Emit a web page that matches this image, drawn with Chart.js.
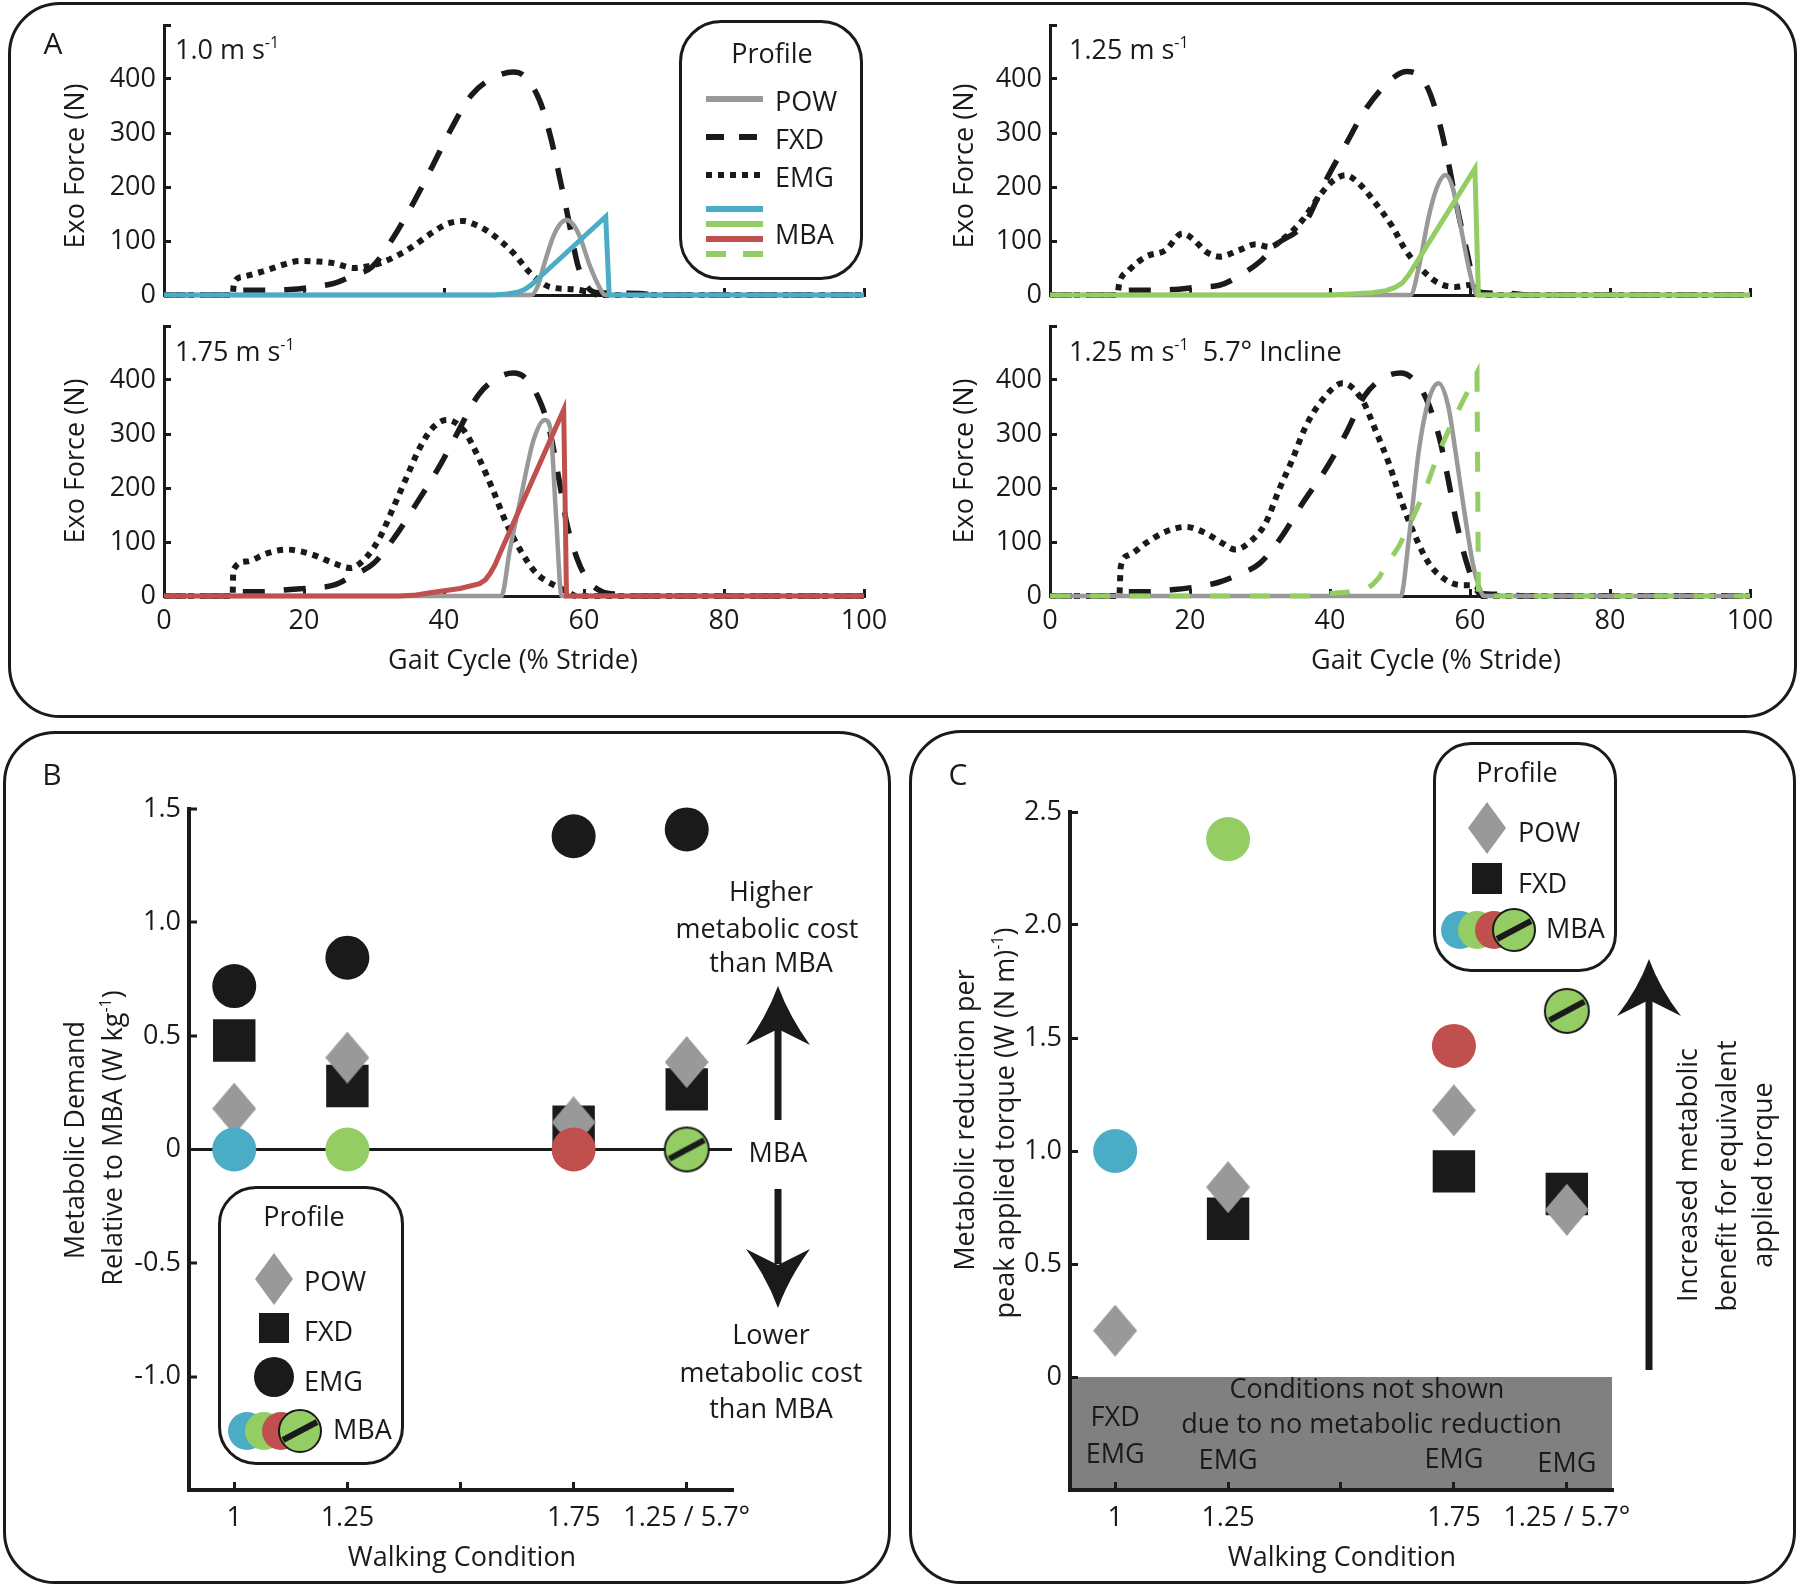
<!DOCTYPE html>
<html>
<head>
<meta charset="utf-8">
<title>Exo force profiles and metabolic demand</title>
<script src="https://cdn.jsdelivr.net/npm/chart.js@4.4.1/dist/chart.umd.min.js"></script>
<style>
  body { margin: 0; width: 1800px; height: 1587px; position: relative; overflow: hidden; background: #fff;
         font-family: 'Open Sans', sans-serif; color: #1a1a1a; }
  .panel { position: absolute; box-sizing: border-box; border: 3px solid #1a1a1a; border-radius: 52px; }
  .legend { position: absolute; box-sizing: border-box; border: 3px solid #1a1a1a; border-radius: 38px; background: #fff; }
  canvas { position: absolute; }
  svg { position: absolute; left: 0; top: 0; }
  .t { position: absolute; font-size: 27px; line-height: 1; white-space: nowrap; }
  .c { transform: translate(-50%, -50%); }
  .l { transform: translate(0, -50%); }
  .r { transform: translate(-50%, -50%) rotate(-90deg); }
  .big { font-size: 30px; }
  sup { font-size: 16px; line-height: 0; vertical-align: 11px; }
</style>
</head>
<body>
<div class="panel" style="left:8px;top:2px;width:1789px;height:716px"></div>
<div class="panel" style="left:3px;top:731px;width:888px;height:853px"></div>
<div class="panel" style="left:909px;top:730px;width:887px;height:854px"></div>

<canvas id="a100" width="800" height="300" style="left:90px;top:15px"></canvas>
<canvas id="a125" width="800" height="300" style="left:976px;top:15px"></canvas>
<canvas id="a175" width="800" height="330" style="left:90px;top:316px"></canvas>
<canvas id="a125i" width="800" height="330" style="left:976px;top:316px"></canvas>
<canvas id="chartB" width="672" height="750" style="left:100px;top:790px"></canvas>
<canvas id="chartC" width="672" height="750" style="left:980px;top:790px"></canvas>

<div class="legend" style="left:679px;top:20px;width:184px;height:260px;border-radius:42px"></div>
<div class="legend" style="left:218px;top:1186px;width:186px;height:279px"></div>
<div class="legend" style="left:1433px;top:742px;width:184px;height:230px"></div>

<svg width="1800" height="1587">
  <!-- legend A -->
  <g stroke-width="6" fill="none">
    <line x1="706" y1="99" x2="763" y2="99" stroke="#999999"/>
    <line x1="706" y1="137" x2="763" y2="137" stroke="#1a1a1a" stroke-dasharray="18 15"/>
    <line x1="706" y1="175" x2="763" y2="175" stroke="#1a1a1a" stroke-dasharray="6 6"/>
    <line x1="706" y1="209" x2="763" y2="209" stroke="#4bacc6"/>
    <line x1="706" y1="224" x2="763" y2="224" stroke="#93cd63"/>
    <line x1="706" y1="239" x2="763" y2="239" stroke="#c0504d"/>
    <line x1="706" y1="254" x2="763" y2="254" stroke="#93cd63" stroke-dasharray="20 17"/>
  </g>
  <!-- legend B -->
  <polygon points="274,1253 293,1279 274,1305 255,1279" fill="#999999"/>
  <rect x="259" y="1313" width="30" height="30" fill="#1a1a1a"/>
  <circle cx="274" cy="1377" r="20" fill="#1a1a1a"/>
  <circle cx="247" cy="1431" r="19" fill="#4bacc6"/>
  <circle cx="264" cy="1431" r="19" fill="#93cd63"/>
  <circle cx="281" cy="1431" r="19" fill="#c0504d"/>
  <circle cx="300" cy="1431" r="21" fill="#93cd63" stroke="#1a1a1a" stroke-width="2"/>
  <line x1="283" y1="1440" x2="317" y2="1422" stroke="#1a1a1a" stroke-width="6"/>
  <!-- legend C -->
  <polygon points="1487,802 1506,828 1487,854 1468,828" fill="#999999"/>
  <rect x="1472" y="863" width="30" height="31" fill="#1a1a1a"/>
  <circle cx="1460" cy="930" r="19" fill="#4bacc6"/>
  <circle cx="1477" cy="930" r="19" fill="#93cd63"/>
  <circle cx="1494" cy="930" r="19" fill="#c0504d"/>
  <circle cx="1514" cy="930" r="21" fill="#93cd63" stroke="#1a1a1a" stroke-width="2"/>
  <line x1="1497" y1="939" x2="1531" y2="921" stroke="#1a1a1a" stroke-width="6"/>
  <!-- arrows -->
  <g fill="#1a1a1a">
    <rect x="774.5" y="1025" width="7" height="95"/>
    <path d="M778,986 Q789,1016 810,1045 L778,1029 L746,1045 Q767,1016 778,986 Z"/>
    <rect x="774.5" y="1189" width="7" height="75"/>
    <path d="M778,1308 Q789,1278 810,1249 L778,1265 L746,1249 Q767,1278 778,1308 Z"/>
    <rect x="1645.5" y="995" width="7" height="375"/>
    <path d="M1649,959 Q1660,989 1681,1016 L1649,1000 L1617,1016 Q1638,989 1649,959 Z"/>
  </g>
</svg>

<!-- panel A text -->
<div class="t c big" style="left:53px;top:43px">A</div>
<div class="t l" style="left:175px;top:48px">1.0 m s<sup>-1</sup></div>
<div class="t l" style="left:1069px;top:48px">1.25 m s<sup>-1</sup></div>
<div class="t l" style="left:175px;top:350px">1.75 m s<sup>-1</sup></div>
<div class="t l" style="left:1069px;top:350px">1.25 m s<sup>-1</sup>&nbsp;&nbsp;5.7° Incline</div>
<div class="t r" style="left:73px;top:166px">Exo Force (N)</div>
<div class="t r" style="left:73px;top:461px">Exo Force (N)</div>
<div class="t r" style="left:962px;top:166px">Exo Force (N)</div>
<div class="t r" style="left:962px;top:461px">Exo Force (N)</div>
<div class="t c" style="left:513px;top:658px">Gait Cycle (% Stride)</div>
<div class="t c" style="left:1436px;top:658px">Gait Cycle (% Stride)</div>
<div class="t c" style="left:772px;top:52px">Profile</div>
<div class="t l" style="left:775px;top:100px">POW</div>
<div class="t l" style="left:775px;top:138px">FXD</div>
<div class="t l" style="left:775px;top:176px">EMG</div>
<div class="t l" style="left:775px;top:233px">MBA</div>

<!-- panel B text -->
<div class="t c big" style="left:52px;top:774px">B</div>
<div class="t r" style="left:73px;top:1140px">Metabolic Demand</div>
<div class="t r" style="left:111px;top:1138px">Relative to MBA (W kg<sup>-1</sup>)</div>
<div class="t c" style="left:462px;top:1555px">Walking Condition</div>
<div class="t c" style="left:771px;top:890px">Higher</div>
<div class="t c" style="left:767px;top:927px">metabolic cost</div>
<div class="t c" style="left:771px;top:961px">than MBA</div>
<div class="t c" style="left:778px;top:1151px">MBA</div>
<div class="t c" style="left:771px;top:1333px">Lower</div>
<div class="t c" style="left:771px;top:1371px">metabolic cost</div>
<div class="t c" style="left:771px;top:1407px">than MBA</div>
<div class="t c" style="left:304px;top:1215px">Profile</div>
<div class="t l" style="left:304px;top:1280px">POW</div>
<div class="t l" style="left:304px;top:1330px">FXD</div>
<div class="t l" style="left:304px;top:1380px">EMG</div>
<div class="t l" style="left:333px;top:1428px">MBA</div>

<!-- panel C text -->
<div class="t c big" style="left:958px;top:774px">C</div>
<div class="t r" style="left:963px;top:1120px">Metabolic reduction per</div>
<div class="t r" style="left:1003px;top:1123px">peak applied torque (W (N m)<sup>-1</sup>)</div>
<div class="t c" style="left:1342px;top:1555px">Walking Condition</div>
<div class="t r" style="left:1686px;top:1175px">Increased metabolic</div>
<div class="t r" style="left:1725px;top:1176px">benefit for equivalent</div>
<div class="t r" style="left:1761px;top:1175px">applied torque</div>
<div class="t c" style="left:1517px;top:771px">Profile</div>
<div class="t l" style="left:1518px;top:831px">POW</div>
<div class="t l" style="left:1518px;top:882px">FXD</div>
<div class="t l" style="left:1546px;top:927px">MBA</div>

<script>
// ---- Panel A: exo force (N) over the gait cycle (% stride), [x, y] ----
const gaitTicks = [0, 20, 40, 60, 80, 100]
const forceTicks = [0, 100, 200, 300, 400, 500]

// 1.0 m/s
const v100_POW = [[0,0],[52.5,0],[53.5,20],[54.2,52],[55.6,108],[56.5,130],[57.5,139],[58.5,130],[59.4,108],[60.9,52],[62.3,12],[63,0],[100,0]]
const v100_FXD = [[0,0],[9.7,0],[10,8],[14,9],[18,10],[22,16],[24.4,22],[27,36],[29.7,52],[32.7,105],[35.6,170],[38.4,240],[41,307],[43.9,370],[47,402],[49.9,413],[51.5,405],[53.7,359],[55.3,289],[56.6,213],[57.8,139],[59,61],[60,25],[61,8],[62,4],[68,3],[70,0],[100,0]]
const v100_EMG = [[0,0],[9.8,0],[10,22],[11.3,34],[14.7,46],[17,56],[19.4,63],[22,62],[24.2,59],[27.1,50],[29,53],[30.9,59],[34.7,83],[38.5,117],[40.5,132],[42.8,137],[44.5,130],[46.6,115],[49.9,78],[52.3,41],[55.1,15],[58.9,10],[61,4],[62,0],[100,0]]
const v100_MBA = [[0,0],[47,0],[49,2],[50.5,5],[51.5,10],[52.5,19],[53.5,31],[63.1,145],[63.6,0],[100,0]]

// 1.25 m/s
const v125_POW = [[0,0],[51.5,0],[52.7,52],[54.1,145],[55.3,200],[56.5,222],[57.5,200],[58.4,145],[59.8,52],[60.5,15],[61,0],[100,0]]
const v125_FXD = [[0,0],[9.8,0],[10,8],[14,9],[17.5,10],[21.5,15],[24.2,18],[27.6,40],[30,62],[32.3,93],[36.4,133],[39.2,207],[42.3,280],[45.2,346],[49.2,404],[51,414],[53.7,390],[55.6,320],[56.9,246],[58,172],[59.4,89],[60.8,15],[62,4],[66,3],[68,0],[100,0]]
const v125_EMG = [[0,0],[9.6,0],[9.9,22],[11.3,46],[13.7,71],[16.5,83],[18.9,114],[20.3,105],[22.3,80],[24.2,71],[27,83],[29.4,94],[31.3,89],[33.7,108],[36.1,139],[38.4,182],[40.3,210],[42.2,222],[44.1,207],[46.5,170],[48.9,127],[50.8,83],[53.2,46],[55.5,22],[57.9,15],[60.3,19],[61.2,5],[62,0],[100,0]]
const v125_MBA = [[0,0],[39.8,0],[43,2],[46,4],[48,8],[49.3,14],[50.3,22],[51.2,36],[60.7,234],[61.2,0],[100,0]]

// 1.75 m/s
const v175_POW = [[0,0],[48.2,0],[49.4,85],[50.9,178],[52.8,289],[54.4,326],[55.2,310],[56,150],[56.8,0],[100,0]]
const v175_FXD = [[0,0],[9.8,0],[10,8],[14,8],[18,12],[21,15],[24.2,20],[27,38],[30,61],[33,110],[36.1,172],[39.3,239],[42,304],[44.9,372],[47.5,403],[49.9,413],[51.5,405],[53.7,361],[55.2,300],[56.5,210],[57.5,137],[59,70],[60.5,30],[62.6,8],[65,3],[68,0],[100,0]]
const v175_EMG = [[0,0],[9.8,0],[9.9,48],[11.8,64],[14.7,79],[17.5,86],[20.9,78],[24.2,61],[26.6,52],[29,73],[30.9,110],[32.8,165],[34.7,221],[36.6,276],[38.5,313],[40.4,326],[42.8,307],[45.1,252],[47,196],[48.9,135],[50.9,85],[53.2,42],[55.6,21],[57.5,9],[59,0],[100,0]]
const v175_MBA = [[0,0],[33.7,0],[36,2],[38.5,7],[42.3,14],[45.1,23],[45.9,30],[46.6,42],[47.3,58],[48,79],[57.1,345],[57.5,0],[100,0]]

// 1.25 m/s, 5.7 deg incline
const v125i_POW = [[0,0],[50.1,0],[51.3,110],[52.7,270],[54.1,363],[55.5,394],[56.9,351],[57.9,270],[59.3,147],[60.5,54],[61.5,10],[62,0],[100,0]]
const v125i_FXD = [[0,0],[9.8,0],[10,8],[14,8],[17.7,12],[21,17],[24,25],[27,40],[30,61],[33,108],[36.1,172],[39.5,237],[42.4,304],[44.9,370],[47.5,403],[50.1,413],[52,400],[53.9,361],[55.7,289],[56.9,215],[58,141],[59.4,67],[61.4,5],[64,3],[68,0],[100,0]]
const v125i_EMG = [[0,0],[9.9,0],[10.1,54],[11.3,76],[13.7,98],[16.5,119],[19.4,128],[22.3,116],[24.6,98],[26.5,86],[28.9,104],[30.8,135],[32.7,196],[34.6,252],[36.5,313],[38.9,363],[41.8,394],[44.6,363],[46.5,307],[48.4,246],[50.3,172],[52.2,110],[54.1,61],[56.5,30],[58.9,20],[60.8,20],[61.5,2],[62,0],[100,0]]
const v125i_MBA = [[0,0],[38.4,0],[40.3,5],[42.2,7],[44.1,10],[45.2,14],[46,20],[47,34],[47.9,54],[49.8,91],[51.7,141],[53.6,196],[55.5,265],[57.4,320],[59.3,369],[61,413],[61.2,0],[100,0]]

// ---- Panels B and C: one value per walking condition ----
const conditions = ['1', '1.25', '1.75', '1.25 / 5.7°']
const conditionX = [1, 2, 4, 5]
const conditionTicks = [1, 2, 3, 4, 5]

const B_POW = [0.18, 0.405, 0.12, 0.385]
const B_FXD = [0.48, 0.28, 0.10, 0.265]
const B_EMG = [0.72, 0.845, 1.38, 1.41]
const B_MBA = [0, 0, 0, 0]
const B_yTicks = [-1.5, -1, -0.5, 0, 0.5, 1, 1.5]

const C_POW = [0.205, 0.84, 1.18, 0.74]
const C_FXD = [null, 0.70, 0.91, 0.81]
const C_MBA = [1.0, 2.38, 1.465, 1.62]
const C_notShown = [['FXD', 'EMG'], ['EMG'], ['EMG'], ['EMG']]
const C_yTicks = [-0.5, 0, 0.5, 1, 1.5, 2, 2.5]

const ink = '#1a1a1a'
const powGray = '#999999'
const mbaBlue = '#4bacc6'
const mbaGreen = '#93cd63'
const mbaRed = '#c0504d'

Chart.defaults.font.family = "'Open Sans', sans-serif"
Chart.defaults.font.size = 27
Chart.defaults.color = ink

const pts = arr => arr.map(([x, y]) => ({ x, y }))
const byCondition = vals => conditionX.map((x, i) => ({ x, y: vals[i] })).filter(p => p.y !== null)

// fixed axis sizes so the plot areas land where the figure has them
const fixBox = (dim, size) => s => {
  s[dim] = size
  s.paddingTop = s.paddingBottom = s.paddingLeft = s.paddingRight = 0
}
const setTicks = values => s => { s.ticks = values.map(v => ({ value: v })) }

const baseOptions = {
  animation: false,
  responsive: false,
  events: [],
  plugins: { legend: { display: false }, tooltip: { enabled: false } },
}

function gaitChart(id, pow, fxd, emg, mba, mbaColor, mbaDash, showX) {
  const smooth = { cubicInterpolationMode: 'monotone' }
  return new Chart(document.getElementById(id), {
    type: 'line',
    data: {
      datasets: [
        { label: 'MBA', data: pts(mba), borderColor: mbaColor, borderWidth: 5, borderDash: mbaDash, tension: 0, order: 0 },
        { label: 'POW', data: pts(pow), borderColor: powGray, borderWidth: 4.5, ...smooth, order: 1 },
        { label: 'EMG', data: pts(emg), borderColor: ink, borderWidth: 6, borderDash: [6, 6], ...smooth, order: 2 },
        { label: 'FXD', data: pts(fxd), borderColor: ink, borderWidth: 5.5, borderDash: [22, 19], ...smooth, order: 3 },
      ].map(d => Object.assign(d, { pointRadius: 0, fill: false, clip: false })),
    },
    options: {
      ...baseOptions,
      layout: { autoPadding: false, padding: { top: 10, right: 26, left: 0, bottom: 0 } },
      scales: {
        x: {
          type: 'linear', min: 0, max: 100,
          afterBuildTicks: setTicks(gaitTicks),
          ticks: { display: showX, padding: 16, maxRotation: 0, autoSkip: false },
          grid: { drawOnChartArea: false, tickLength: -7, color: ink, lineWidth: 3 },
          border: { color: ink, width: 3 },
          afterFit: fixBox('height', showX ? 50 : 20),
        },
        y: {
          min: 0, max: 500,
          afterBuildTicks: setTicks(forceTicks),
          ticks: { padding: 15, callback: v => (v >= 500 ? '' : v) },
          grid: { drawOnChartArea: false, tickLength: -7, color: ink, lineWidth: 3 },
          border: { color: ink, width: 3 },
          afterFit: fixBox('width', 74),
        },
      },
    },
  })
}

gaitChart('a100', v100_POW, v100_FXD, v100_EMG, v100_MBA, mbaBlue, [], false)
gaitChart('a125', v125_POW, v125_FXD, v125_EMG, v125_MBA, mbaGreen, [], false)
gaitChart('a175', v175_POW, v175_FXD, v175_EMG, v175_MBA, mbaRed, [], true)
gaitChart('a125i', v125i_POW, v125i_FXD, v125i_EMG, v125i_MBA, mbaGreen, [20, 20], true)

// marker images
function diamond(w, h, color) {
  const c = document.createElement('canvas')
  c.width = w; c.height = h
  const g = c.getContext('2d')
  g.fillStyle = color
  g.beginPath()
  g.moveTo(w / 2, 0); g.lineTo(w, h / 2); g.lineTo(w / 2, h); g.lineTo(0, h / 2)
  g.closePath(); g.fill()
  return c
}
function slashedCircle(r) {
  const c = document.createElement('canvas')
  c.width = c.height = 2 * r + 4
  const g = c.getContext('2d')
  const m = r + 2
  g.fillStyle = mbaGreen
  g.strokeStyle = ink
  g.lineWidth = 2
  g.beginPath(); g.arc(m, m, r, 0, Math.PI * 2); g.fill(); g.stroke()
  const a = 28 * Math.PI / 180, d = 0.9 * r
  g.lineWidth = 6
  g.beginPath()
  g.moveTo(m - d * Math.cos(a), m + d * Math.sin(a))
  g.lineTo(m + d * Math.cos(a), m - d * Math.sin(a))
  g.stroke()
  return c
}
const powMarker = diamond(44, 52, powGray)
const inclineMarker = slashedCircle(22)
const mbaStyles = ['circle', 'circle', 'circle', inclineMarker]
const mbaColors = [mbaBlue, mbaGreen, mbaRed, mbaGreen]

const conditionLabel = v => {
  const i = conditionX.indexOf(v)
  return i >= 0 ? conditions[i] : ''
}

function conditionScales(yTicks) {
  const yMin = yTicks[0]
  return {
    x: {
      type: 'linear', min: 0.6, max: 5.4,
      afterBuildTicks: setTicks(conditionTicks),
      ticks: { padding: 20, maxRotation: 0, autoSkip: false, callback: conditionLabel },
      grid: { drawOnChartArea: false, tickLength: -8, color: ink, lineWidth: 3 },
      border: { color: ink, width: 4 },
      afterFit: fixBox('height', 50),
    },
    y: {
      min: yMin, max: yTicks[yTicks.length - 1],
      afterBuildTicks: setTicks(yTicks),
      ticks: { padding: 16, callback: v => (v === yMin ? '' : Math.abs(v) < 1e-9 ? '0' : v.toFixed(1)) },
      grid: {
        drawOnChartArea: true, tickLength: -8, tickColor: ink, tickWidth: 3,
        color: c => (c.tick && Math.abs(c.tick.value) < 1e-9 ? ink : 'rgba(0,0,0,0)'),
        lineWidth: c => (c.tick && Math.abs(c.tick.value) < 1e-9 ? 3 : 0),
      },
      border: { color: ink, width: 4 },
      afterFit: fixBox('width', 89),
    },
  }
}

// B: relative metabolic demand
const chartB = new Chart(document.getElementById('chartB'), {
  type: 'scatter',
  data: {
    datasets: [
      { label: 'MBA', data: byCondition(B_MBA), pointStyle: mbaStyles, backgroundColor: mbaColors, pointRadius: 22, order: 0 },
      { label: 'EMG', data: byCondition(B_EMG), pointStyle: 'circle', backgroundColor: ink, pointRadius: 22, order: 1 },
      { label: 'POW', data: byCondition(B_POW), pointStyle: powMarker, pointRadius: 24, order: 2 },
      { label: 'FXD', data: byCondition(B_FXD), pointStyle: 'rect', backgroundColor: ink, pointRadius: 30, order: 3 },
    ].map(d => Object.assign(d, { borderWidth: 0, clip: false })),
  },
  options: {
    ...baseOptions,
    layout: { autoPadding: false, padding: { top: 19, right: 40, left: 0, bottom: 0 } },
    scales: conditionScales(B_yTicks),
  },
})

// C: grey band below zero with the conditions that gave no reduction
const noReductionBand = {
  id: 'noReductionBand',
  beforeDraw(chart) {
    const { ctx, chartArea: a, scales: { x, y } } = chart
    const top = y.getPixelForValue(0)
    ctx.save()
    ctx.fillStyle = '#808080'
    ctx.fillRect(a.left, top, a.right - a.left, a.bottom - top)
    ctx.fillStyle = ink
    ctx.font = "27px 'Open Sans'"
    ctx.textAlign = 'center'
    ctx.textBaseline = 'middle'
    ctx.fillText('Conditions not shown', x.getPixelForValue(3.23), y.getPixelForValue(-0.06))
    ctx.fillText('due to no metabolic reduction', x.getPixelForValue(3.27), y.getPixelForValue(-0.215))
    const lastRow = [-0.345, -0.375, -0.37, -0.385]
    C_notShown.forEach((names, i) => {
      names.forEach((n, j) => {
        const py = y.getPixelForValue(lastRow[i]) - (names.length - 1 - j) * 37
        ctx.fillText(n, x.getPixelForValue(conditionX[i]), py)
      })
    })
    ctx.restore()
  },
}

const scalesC = conditionScales(C_yTicks)
scalesC.y.afterFit = fixBox('width', 90)
scalesC.y.grid = { drawOnChartArea: false, tickLength: -8, color: ink, lineWidth: 3 }

const chartC = new Chart(document.getElementById('chartC'), {
  type: 'scatter',
  data: {
    datasets: [
      { label: 'MBA', data: byCondition(C_MBA), pointStyle: mbaStyles, backgroundColor: mbaColors, pointRadius: 22, order: 0 },
      { label: 'POW', data: byCondition(C_POW), pointStyle: powMarker, pointRadius: 24, order: 2 },
      { label: 'FXD', data: byCondition(C_FXD), pointStyle: 'rect', backgroundColor: ink, pointRadius: 30, order: 3 },
    ].map(d => Object.assign(d, { borderWidth: 0, clip: false })),
  },
  options: {
    ...baseOptions,
    layout: { autoPadding: false, padding: { top: 22, right: 40, left: 0, bottom: 0 } },
    scales: scalesC,
  },
  plugins: [noReductionBand],
})
</script>
</body>
</html>
